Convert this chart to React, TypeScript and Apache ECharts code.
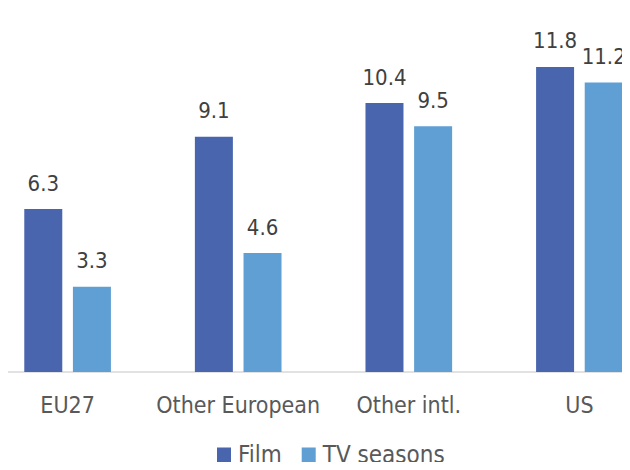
import React, { useEffect, useRef } from "react";
import * as echarts from "echarts";

const categories = ["EU27", "Other European", "Other intl.", "US"];
const filmValues = [6.3, 9.1, 10.4, 11.8];
const tvValues = [3.3, 4.6, 9.5, 11.2];
const seriesNames = ["Film", "TV seasons"];

const FONT = "'DejaVu Sans Condensed', 'DejaVu Sans', sans-serif";

export default function App() {
  const ref = useRef<HTMLDivElement>(null);
  useEffect(() => {
    if (!ref.current) return;
    const chart = echarts.init(ref.current, null, { renderer: "svg" });
    const label = {
      show: true,
      position: "top",
      distance: 15,
      color: "#404040",
      fontSize: 22,
      fontFamily: FONT,
    };
    chart.setOption({
      animation: false,
      textStyle: { fontFamily: FONT },
      legend: {
        top: 443,
        left: 217,
        padding: 0,
        itemWidth: 14,
        itemHeight: 15,
        itemGap: 20,
        icon: "rect",
        textStyle: {
          fontSize: 24,
          lineHeight: 18,
          color: "#595959",
          fontFamily: FONT,
          padding: [0, 0, 0, 2],
        },
        data: seriesNames,
      },
      grid: {
        left: -17.7,
        width: 682.4,
        top: 10,
        bottom: 98,
        containLabel: false,
        outerBoundsMode: "none",
      },
      xAxis: {
        type: "category",
        data: categories,
        axisLine: { lineStyle: { color: "#d9d9d9", width: 1.5 } },
        axisTick: { show: false },
        axisLabel: { color: "#595959", fontSize: 23, fontFamily: FONT, margin: 21, interval: 0 },
      },
      yAxis: {
        type: "value",
        min: 0,
        max: 14,
        show: false,
        splitLine: { show: false },
      },
      series: [
        {
          name: seriesNames[0],
          type: "bar",
          data: filmValues,
          barWidth: 38,
          barGap: "28%",
          itemStyle: { color: "#4865AE" },
          label,
        },
        {
          name: seriesNames[1],
          type: "bar",
          data: tvValues,
          barWidth: 38,
          itemStyle: { color: "#5F9FD3" },
          label,
        },
      ],
    });
    return () => chart.dispose();
  }, []);
  return <div ref={ref} style={{ width: 630, height: 470, margin: -8 }} />;
}
